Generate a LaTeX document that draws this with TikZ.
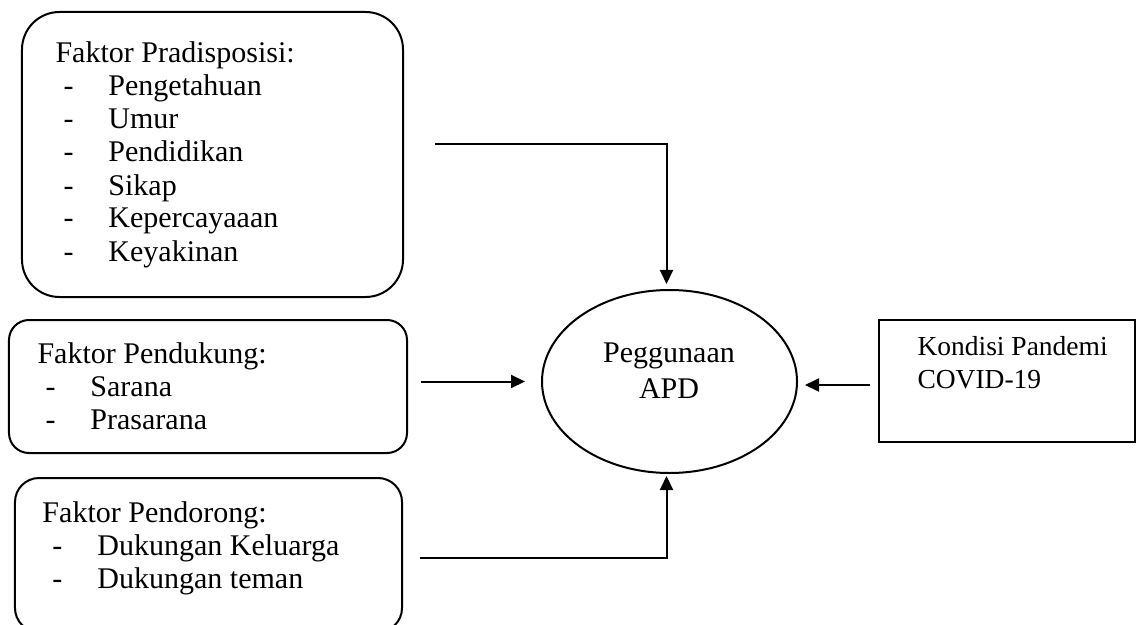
\documentclass[tikz,border=0pt]{standalone}
\usepackage{fontspec}
\setmainfont{Liberation Serif}
\usetikzlibrary{arrows.meta,calc,shapes.geometric}
\tikzset{
    faktor box/.style={draw,line width=0.8pt,rounded corners=#1,inner sep=0pt},
    faktor box/.default=8pt,
    plain box/.style={draw,line width=0.5pt,inner sep=0pt},
    list text/.style={inner sep=0pt,anchor=base west,font=\fontsize{12}{13.2}\selectfont},
    arr/.style={-{Triangle[length=5.6pt,width=5.2pt]},line width=0.8pt},
}
\newcommand{\butir}[1]{\makebox[21.2pt][l]{\hspace{3.2pt}-}#1}

\begin{document}
\begin{tikzpicture}[x=0.4pt,y=-0.4pt]
    \useasboundingbox (0,0) rectangle (1137,625);
    \clip (0,0) rectangle (1137,625);
    % kotak-kotak faktor
    \node[faktor box=15pt,minimum width=152.4pt,minimum height=114pt] (pra) at (212.5,154.5) {};
    \node[faktor box=8pt,minimum width=159.2pt,minimum height=53.2pt] (pdk) at (208,386.5) {};
    \node[faktor box=9.6pt,minimum width=154.8pt,minimum height=61.6pt] (pdr) at (208.5,555) {};
    \node[plain box,minimum width=102.4pt,minimum height=48.8pt] (kon) at (1007,381) {};
    \node[draw,ellipse,line width=0.8pt,minimum width=102pt,minimum height=73.2pt,inner sep=0pt] (apd) at (669.5,381.5) {};

    \node[list text] (pra text) at (55,63) {\begin{tabular}[t]{@{}l@{}}
        Faktor Pradisposisi:\\ \butir{Pengetahuan}\\ \butir{Umur}\\ \butir{Pendidikan}\\
        \butir{Sikap}\\ \butir{Kepercayaaan}\\ \butir{Keyakinan}\end{tabular}};
    \node[list text] (pdk text) at (37,363) {\begin{tabular}[t]{@{}l@{}}
        Faktor Pendukung:\\ \butir{Sarana}\\ \butir{Prasarana}\end{tabular}};
    \node[list text] (pdr text) at (42,522) {\begin{tabular}[t]{@{}l@{}}
        Faktor Pendorong:\\ \hspace{0.8pt}\butir{Dukungan Keluarga}\\ \hspace{0.8pt}\butir{Dukungan teman}\end{tabular}};
    \node[list text,font=\fontsize{11}{13.2}\selectfont] (kon text) at (917,355) {\begin{tabular}[t]{@{}l@{}}
        Kondisi Pandemi\\ COVID-19\end{tabular}};
    \node[inner sep=0pt,anchor=base,font=\fontsize{12}{14.4}\selectfont] (apd text) at (669,362) {\begin{tabular}[t]{@{}c@{}}
        Peggunaan\\ APD\end{tabular}};

    % panah ke penggunaan APD
    \coordinate (pra out) at ($(pra.east)+(31,-10.5)$);
    \coordinate (pdk out) at ($(pdk.east)+(13,0)$);
    \coordinate (pdr out) at ($(pdr.east)+(17,3)$);
    \coordinate (kon in) at ($(kon.west)+(-8,4)$);
    \draw[arr] (pra out) -| ($(apd.north)+(-3,-5)$);
    \draw[arr] (pdk out |- apd.west) -- ($(apd.west)+(-16,0)$);
    \draw[arr] (pdr out) -| ($(apd.south)+(-3,2)$);
    \draw[arr] (kon in) -- ($(kon in -| apd.east)+(7,0)$);
\end{tikzpicture}
\end{document}
